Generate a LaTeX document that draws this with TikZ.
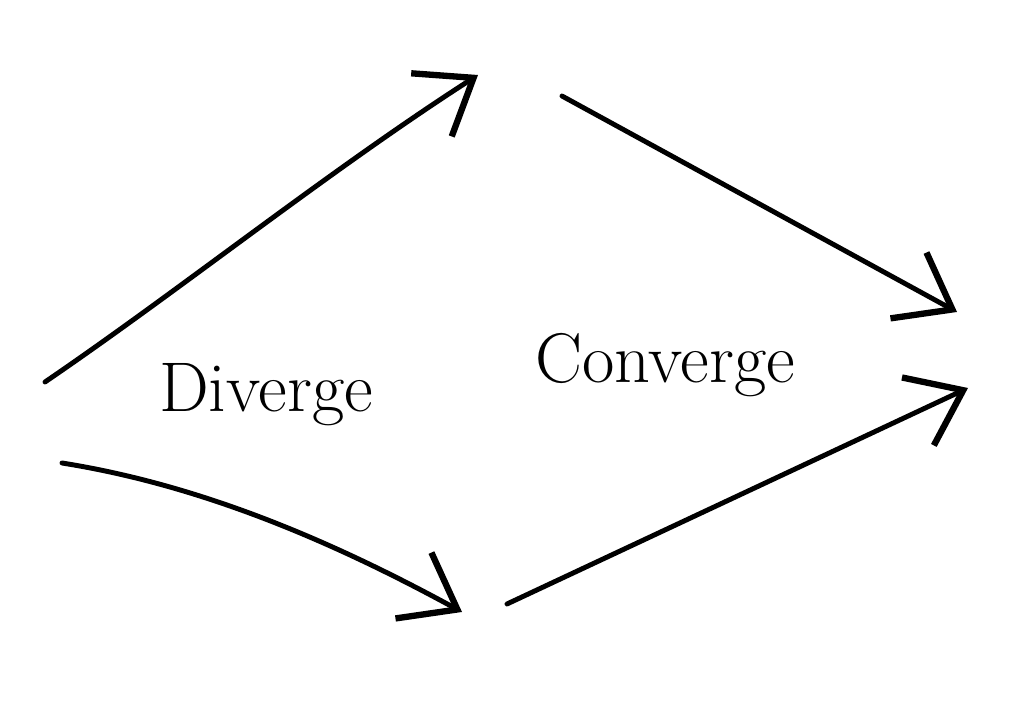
\documentclass[tikz,border=0pt]{standalone}
\usepackage{tikz}
\usetikzlibrary{arrows.meta, positioning}

\begin{document}
\begin{tikzpicture}[x=0.01cm, y=-0.01cm, line width=1.4pt, line cap=round,
	flow/.style={-{Straight Barb[length=5mm, width=7.5mm, line width=1.8pt]}},
	word/.style={font=\fontsize{20}{24}\selectfont}]
	\useasboundingbox (0,0) rectangle (1020,716);
	\coordinate (l0) at (45,382);
	\coordinate (t) at (478,75);
	\coordinate (l1) at (62,463);
	\coordinate (b) at (462,612);
	\coordinate (t1) at (562,96);
	\coordinate (r0) at (957,312);
	\coordinate (b1) at (507,604);
	\coordinate (r1) at (968,388);
	
	\node[word] (div) at (266,395) {Diverge};
	\node[word] (conv) at (665,365) {Converge};
	
	\draw[flow] (l0) .. controls (180,290) and (330,170) .. (t);
	\draw[flow] (l1) .. controls (200,485) and (330,540) .. (b);
	\draw[flow] (t1) -- (r0);
	\draw[flow] (b1) -- (r1);
	
\end{tikzpicture}
\end{document}
